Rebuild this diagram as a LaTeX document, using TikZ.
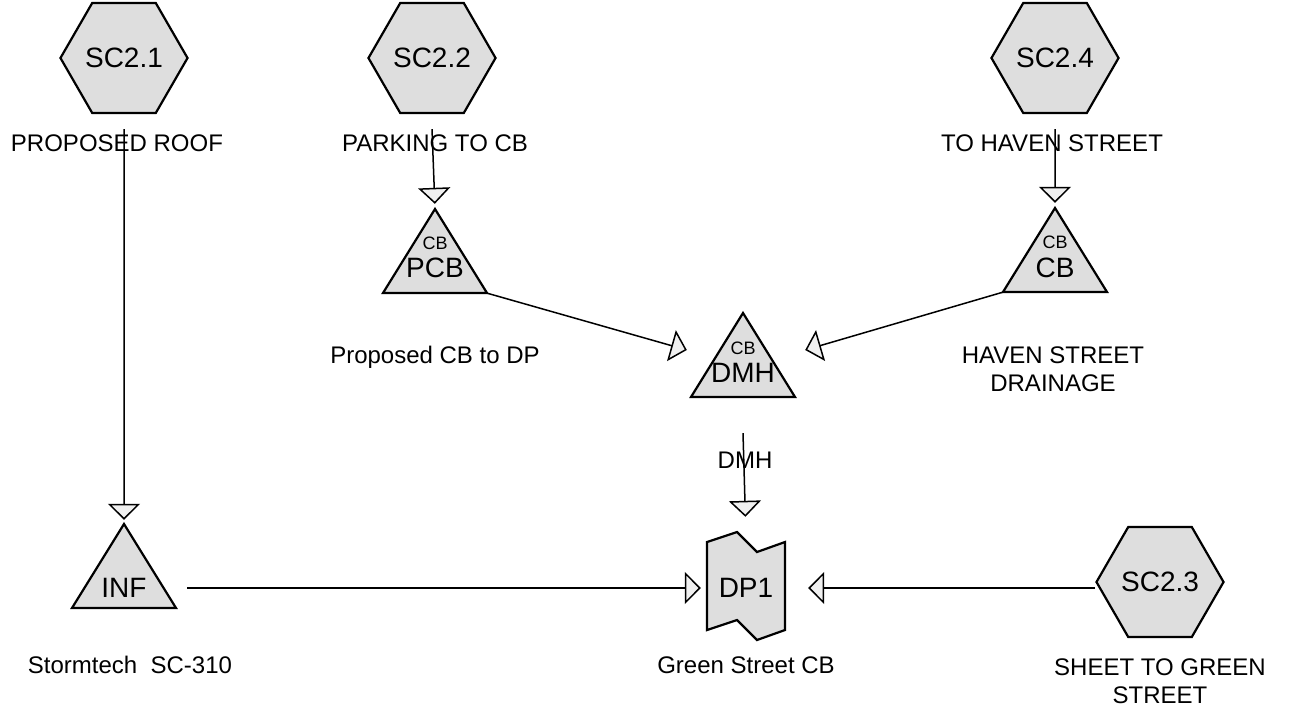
\documentclass[tikz,border=0pt]{standalone}
\usepackage{fontspec}
\setmainfont{Liberation Sans}
\usetikzlibrary{calc,arrows.meta,shapes.geometric}

\begin{document}
\begin{tikzpicture}[x=1pt,y=-1pt,
    flow/.style={-{Triangle[length=16pt,width=32pt,fill=black!6]},line width=1.5pt},
    outline/.style={draw=black,line width=2.2pt,fill=black!13,line join=miter},
    hexa/.style={outline,regular polygon,regular polygon sides=6,minimum size=105pt,inner sep=0pt,font=\fontsize{28}{30}\selectfont},
    box/.style={minimum width=104pt,minimum height=84pt,inner sep=0pt},
    big/.style={font=\fontsize{28}{30}\selectfont,inner sep=0pt},
    small/.style={font=\fontsize{18}{20}\selectfont,inner sep=0pt},
    lab/.style={font=\fontsize{24}{28}\selectfont,align=center,inner sep=0pt}]

  % Page frame
  \useasboundingbox (0,0) rectangle (1289,715);

  % Subcatchments
  \node[hexa] (sc21) at (124,58) {SC2.1};
  \node[hexa] (sc22) at (432,58) {SC2.2};
  \node[hexa] (sc24) at (1055,58) {SC2.4};
  \node[hexa] (sc23) at (1160,582) {SC2.3};

  \node[lab] (roof) at (117,143) {PROPOSED ROOF};
  \node[lab] (park) at (435,143) {PARKING TO CB};
  \node[lab] (haven) at (1052,143) {TO HAVEN STREET};

  % Ponds / catch basins (triangles)
  \foreach \nm/\x/\y in {pcb/435/251, cb/1055/250, dmh/743/355, inf/124/566}{
    \filldraw[outline] (\x,\y) ++(0,-42) -- ++(52,84) -- ++(-104,0) -- cycle;
    \node[box] (\nm) at (\x,\y) {};
  }

  \node[small] (pcbtop) at ($(pcb)+(0,-8)$) {CB};
  \node[big] (pcbname) at ($(pcb)+(0,17)$) {PCB};
  \node[small] (cbtop) at ($(cb)+(0,-8)$) {CB};
  \node[big] (cbname) at ($(cb)+(0,18)$) {CB};
  \node[small] (dmhtop) at ($(dmh)+(0,-7)$) {CB};
  \node[big] (dmhname) at ($(dmh)+(0,18)$) {DMH};
  \node[big] (infname) at ($(inf)+(0,22)$) {INF};

  \node[lab] (propcb) at (435,357) {Proposed CB to DP};
  \node[lab] (drain) at (1053,369) {HAVEN STREET\\DRAINAGE};
  \node[lab] (storm) at (130,665) {Stormtech\ \ SC-310};

  % Design point
  \filldraw[outline] (707,542) -- (737,532) -- (757,552) -- (785,542)
    -- (785,630) -- (757,640) -- (737,620) -- (707,630) -- cycle;
  \node[big,minimum width=78pt,minimum height=100pt] (dp1) at (746,588) {DP1};
  \node[lab] (green) at (746,665) {Green Street CB};
  \node[lab] (sheet) at (1160,681) {SHEET TO GREEN\\STREET};

  % Reaches
  \draw[flow,shorten >=4pt] ($(sc21.south)+(0,15)$) -- (inf.north);
  \draw[flow,shorten >=5pt] ($(sc22.south)+(0,15)$) -- (pcb.north);
  \draw[flow,shorten >=5pt] ($(sc24.south)+(0,15)$) -- (cb.north);
  \draw[flow] (pcb.south east) -- ($(dmh.west)+(-4,-5)$);
  \draw[flow] (cb.south west) -- ($(dmh.east)+(10,-5)$);
  \node[lab] (dmhlab) at (745,460) {DMH};
  \draw[flow,shorten >=21pt] ($(dmh.south)+(0,36)$) -- (dp1.north);
  \draw[flow,shorten >=6pt] ($(inf.east |- dp1.west)+(11,0)$) -- (dp1.west);
  \draw[flow,shorten >=23pt] (sc23.west |- dp1.east) -- (dp1.east);

\end{tikzpicture}
\end{document}
